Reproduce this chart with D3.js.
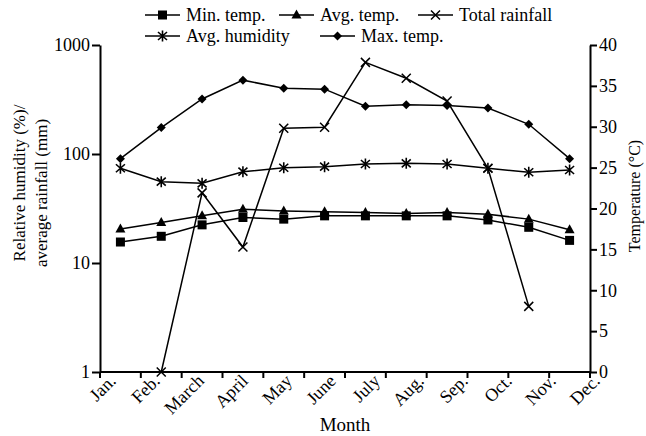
<!DOCTYPE html>
<html>
<head>
<meta charset="utf-8">
<script src="https://cdn.jsdelivr.net/npm/d3@7"></script>
<style>
  html, body { margin: 0; padding: 0; background: #fff; }
  svg { display: block; }
  text { font-family: "Liberation Serif", "Times New Roman", serif; fill: #000; }
</style>
</head>
<body>
<svg id="chart" width="646" height="436"></svg>
<script>
// ---- data ----
const months = ["Jan.", "Feb.", "March", "April", "May", "June", "July", "Aug.", "Sep.", "Oct.", "Nov.", "Dec."];
const minTemp = [15.9, 16.6, 18.0, 18.9, 18.7, 19.1, 19.1, 19.1, 19.1, 18.6, 17.7, 16.1];
const avgTemp = [17.5, 18.3, 19.1, 19.9, 19.7, 19.6, 19.5, 19.4, 19.5, 19.3, 18.7, 17.4];
const maxTemp = [26.1, 29.9, 33.4, 35.7, 34.7, 34.6, 32.5, 32.7, 32.6, 32.3, 30.3, 26.1];
const avgHumidity = [74, 55.7, 53.8, 68.8, 74.8, 76.5, 81, 82.2, 81, 74, 68, 71.3];
const totalRainfall = [null, 1, 44, 14, 172, 176, 693, 495, 306, 74, 4, null];
const leftTicks = [1, 10, 100, 1000];
const rightTicks = [0, 5, 10, 15, 20, 25, 30, 35, 40];
const seriesNames = ["Min. temp.", "Avg. temp.", "Total rainfall", "Avg. humidity", "Max. temp."];

// ---- layout ----
const X0 = 100, X1 = 590, Y0 = 372, Y1 = 45;
const svg = d3.select("#chart");
const x = d3.scaleBand().domain(months).range([X0, X1]);
const xLabel = d3.scalePoint().domain(months).range([117, 601]);
const yLeft = d3.scaleLog().domain([1, 1000]).range([Y0, Y1]);
const yRight = d3.scaleLinear().domain([0, 40]).range([Y0, Y1]);
const cx = m => x(m) + x.bandwidth() / 2;

// marker drawers
function marker(g, type, px, py) {
  if (type === "square") {
    g.append("rect").attr("x", px - 4.5).attr("y", py - 4.5).attr("width", 9).attr("height", 9).attr("fill", "#000");
  } else if (type === "triangle") {
    g.append("path").attr("d", `M${px},${py - 5.5}L${px + 5},${py + 3.5}L${px - 5},${py + 3.5}Z`).attr("fill", "#000");
  } else if (type === "diamond") {
    g.append("path").attr("d", `M${px},${py - 4.5}L${px + 4.5},${py}L${px},${py + 4.5}L${px - 4.5},${py}Z`).attr("fill", "#000");
  } else if (type === "x") {
    g.append("path").attr("d", `M${px - 4.5},${py - 4.5}L${px + 4.5},${py + 4.5}M${px + 4.5},${py - 4.5}L${px - 4.5},${py + 4.5}`)
      .attr("stroke", "#000").attr("stroke-width", 1.5).attr("fill", "none");
  } else if (type === "star") {
    g.append("path").attr("d", `M${px},${py - 5.5}L${px},${py + 5.5}M${px - 4.5},${py - 4}L${px + 4.5},${py + 4}M${px + 4.5},${py - 4}L${px - 4.5},${py + 4}`)
      .attr("stroke", "#000").attr("stroke-width", 1.6).attr("fill", "none");
  }
}

const series = [
  { name: seriesNames[0], values: minTemp, y: yRight, mk: "square" },
  { name: seriesNames[1], values: avgTemp, y: yRight, mk: "triangle" },
  { name: seriesNames[2], values: totalRainfall, y: yLeft, mk: "x" },
  { name: seriesNames[3], values: avgHumidity, y: yLeft, mk: "star" },
  { name: seriesNames[4], values: maxTemp, y: yRight, mk: "diamond" }
];

// ---- lines and markers ----
const plot = svg.append("g");
series.forEach(s => {
  const pts = months.map((m, i) => ({ m, v: s.values[i] }));
  const line = d3.line().defined(d => d.v != null).x(d => cx(d.m)).y(d => s.y(d.v));
  plot.append("path").attr("d", line(pts)).attr("fill", "none").attr("stroke", "#000").attr("stroke-width", 1.5);
  const mg = plot.append("g");
  pts.filter(d => d.v != null).forEach(d => marker(mg, s.mk, cx(d.m), s.y(d.v)));
});

// ---- axes ----
const axisStyle = g => {
  g.selectAll("path, line").attr("stroke", "#000").attr("stroke-width", 2);
  g.selectAll("text").attr("font-size", 18).attr("font-family", "Liberation Serif");
};
svg.append("g").attr("transform", `translate(${X0},0)`)
  .call(d3.axisLeft(yLeft).tickValues(leftTicks).tickFormat(d3.format("d")).tickSize(8).tickSizeOuter(0).tickPadding(2))
  .call(axisStyle);
svg.append("g").attr("transform", `translate(${X1},0)`)
  .call(d3.axisRight(yRight).tickValues(rightTicks).tickSize(7).tickSizeOuter(0).tickPadding(2))
  .call(axisStyle);

// bottom axis: line + ticks at band boundaries
const xb = svg.append("g");
xb.append("line").attr("x1", X0).attr("x2", X1).attr("y1", Y0).attr("y2", Y0).attr("stroke", "#000").attr("stroke-width", 2);
const bounds = months.map(m => x(m)).concat([x.range()[1]]);
xb.selectAll("line.tick").data(bounds).enter().append("line")
  .attr("x1", d => d).attr("x2", d => d).attr("y1", Y0).attr("y2", Y0 + 6)
  .attr("stroke", "#000").attr("stroke-width", 2);
xb.selectAll("text.lab").data(months).enter().append("text")
  .attr("transform", d => `translate(${xLabel(d)},382) rotate(-45)`)
  .attr("text-anchor", "end").attr("font-size", 18).text(d => d);

// ---- titles ----
svg.append("text").attr("x", 345).attr("y", 431).attr("text-anchor", "middle").attr("font-size", 19).text("Month");
svg.append("text").attr("transform", "translate(25,183) rotate(-90)").attr("text-anchor", "middle").attr("font-size", 17)
  .text("Relative humidity (%)/");
svg.append("text").attr("transform", "translate(47,193) rotate(-90)").attr("text-anchor", "middle").attr("font-size", 17)
  .text("average rainfall (mm)");
svg.append("text").attr("transform", "translate(640,196) rotate(-90)").attr("text-anchor", "middle").attr("font-size", 16)
  .text("Temperature (°C)");

// ---- legend ----
const legendPos = [
  { x: 145, y: 15 }, { x: 279, y: 15 }, { x: 418, y: 15 },
  { x: 145, y: 36 }, { x: 320, y: 36 }
];
const lg = svg.append("g");
series.forEach((s, k) => {
  const p = legendPos[k];
  lg.append("line").attr("x1", p.x).attr("x2", p.x + 35).attr("y1", p.y).attr("y2", p.y).attr("stroke", "#000").attr("stroke-width", 1.5);
  marker(lg, s.mk, p.x + 17.5, p.y);
  lg.append("text").attr("x", p.x + 41).attr("y", p.y + 6).attr("font-size", 18).text(s.name);
});
</script>
</body>
</html>
